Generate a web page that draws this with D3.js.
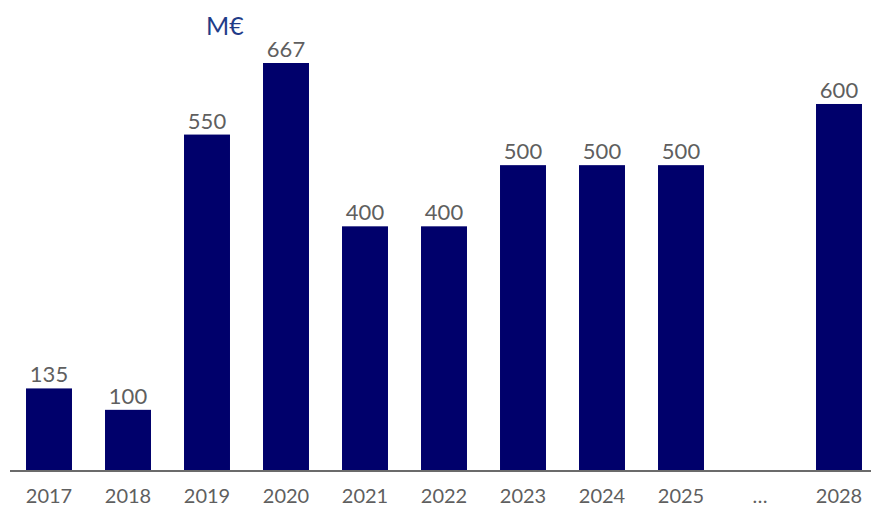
<!DOCTYPE html>
<html>
<head>
<meta charset="utf-8">
<script src="https://cdn.jsdelivr.net/npm/d3@7"></script>
<style>
  html, body { margin: 0; padding: 0; background: #fff; }
  svg { display: block; font-family: Lato, "Open Sans", sans-serif; }
</style>
</head>
<body>
<svg id="chart" width="871" height="506"></svg>
<script>
// Yearly amounts in millions of euros; the "…" slot is a gap with no bar.
const categories = ["2017", "2018", "2019", "2020", "2021", "2022", "2023", "2024", "2025", "…", "2028"];
const values     = [135, 100, 550, 667, 400, 400, 500, 500, 500, null, 600];
const unitLabel  = "M€";

const svg = d3.select("#chart");
const baseline = 471;

const x = d3.scaleBand()
  .domain(categories)
  .range([9.5, 878.5])
  .paddingInner(0.418)
  .paddingOuter(0.209);

const y = d3.scaleLinear()
  .domain([0, 667])
  .range([baseline, 63]);

const data = categories.map((c, i) => ({ cat: c, value: values[i] }));
const withValue = data.filter(d => d.value != null);

// bars
svg.append("g")
  .selectAll("rect")
  .data(withValue)
  .join("rect")
  .attr("x", d => x(d.cat))
  .attr("y", d => y(d.value))
  .attr("width", x.bandwidth())
  .attr("height", d => baseline - y(d.value))
  .attr("fill", "#00006B");

// baseline axis
const axis = d3.axisBottom(x).tickSize(0).tickPadding(18);
const gAxis = svg.append("g")
  .attr("transform", `translate(0,${baseline})`)
  .call(axis);
gAxis.select(".domain").remove();
gAxis.append("line")
  .attr("x1", 10).attr("x2", 871)
  .attr("y1", 0).attr("y2", 0)
  .attr("stroke", "#6b6b6b")
  .attr("stroke-width", 2);
gAxis.selectAll(".tick text")
  .attr("fill", "#5f5f5f")
  .attr("font-size", 20)
  .attr("font-family", "Lato, 'Open Sans', sans-serif");

// value labels
svg.append("g")
  .selectAll("text")
  .data(withValue)
  .join("text")
  .attr("x", d => x(d.cat) + x.bandwidth() / 2)
  .attr("y", d => y(d.value) - 6)
  .attr("text-anchor", "middle")
  .attr("fill", "#5f5f5f")
  .attr("font-size", 22)
  .text(d => d.value);

// unit
svg.append("text")
  .attr("x", 206)
  .attr("y", 35)
  .attr("fill", "#1F3C88")
  .attr("font-size", 25)
  .text(unitLabel);
</script>
</body>
</html>
